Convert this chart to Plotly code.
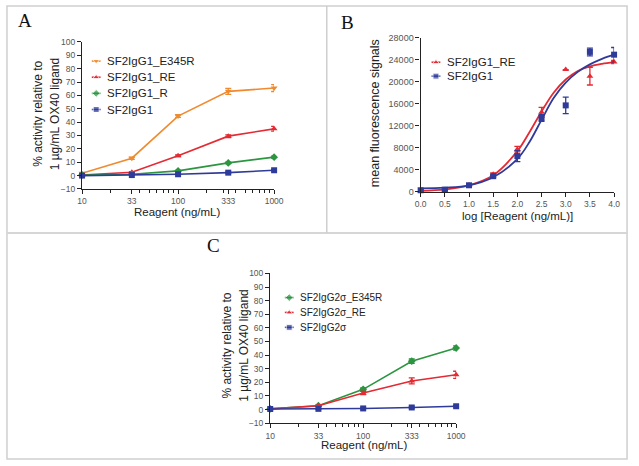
import plotly.graph_objects as go

W, H = 639, 466

# ---- panel A data: % activity vs reagent (ng/mL) ----
conc_a = [10, 33, 100, 333, 1000]
names_a = ["SF2IgG1_E345R", "SF2IgG1_RE", "SF2IgG1_R", "SF2IgG1"]
act_a_e345r = [1.7, 13.0, 44.5, 63.0, 65.5]
err_a_e345r = [0.5, 0.8, 1.0, 2.2, 2.6]
act_a_re = [0.5, 2.5, 14.8, 29.5, 35.0]
err_a_re = [0.3, 0.4, 0.6, 1.0, 1.8]
act_a_r = [0.5, 1.0, 3.5, 9.5, 13.8]
err_a_r = [0.2, 0.2, 0.4, 0.6, 0.8]
act_a_wt = [0.0, 0.4, 1.0, 2.2, 4.0]
err_a_wt = [0.2, 0.2, 0.3, 0.4, 0.5]

# ---- panel B data: mean fluorescence vs log concentration ----
log_b = [0.0, 0.5, 1.0, 1.5, 2.0, 2.5, 3.0, 3.5, 4.0]
names_b = ["SF2IgG1_RE", "SF2IgG1"]
mfi_b_re = [200, 350, 1250, 3200, 7760, 14450, 22200, 21000, 23560]
err_b_re = [100, 100, 150, 250, 500, 900, 0, 1600, 300]
mfi_b_wt = [300, 400, 1200, 2850, 6500, 13400, 15700, 25400, 24900]
err_b_wt = [100, 100, 150, 250, 1000, 600, 1500, 700, 1300]
# fitted curves
fit_log_b = [0.0, 0.5, 1.0, 1.5, 2.0, 2.25, 2.5, 2.75, 3.0, 3.25, 3.5, 3.75, 4.0]
fit_b_re = [180, 450, 1190, 3020, 7400, 10830, 14600, 18000, 20400, 21950, 22780, 23250, 23560]
fit_b_wt = [650, 770, 1190, 2660, 5980, 9050, 13080, 17040, 19830, 21780, 23140, 24150, 24910]

# ---- panel C data ----
conc_c = [10, 33, 100, 333, 1000]
names_c = ["SF2IgG2σ_E345R", "SF2IgG2σ_RE", "SF2IgG2σ"]
act_c_e345r = [0.5, 2.8, 14.8, 35.5, 45.2]
err_c_e345r = [0.3, 0.4, 1.0, 1.6, 1.5]
act_c_re = [0.5, 2.8, 12.2, 21.0, 25.5]
err_c_re = [0.3, 0.4, 1.2, 2.2, 2.6]
act_c_wt = [0.4, 0.5, 0.8, 1.5, 2.4]
err_c_wt = [0.2, 0.2, 0.3, 0.4, 0.5]

ORANGE = "#f08a2e"
RED = "#e42a33"
GREEN = "#2b9540"
BLUE = "#2f3b9a"


def px(x):
    return x / W


def py(y):
    return 1 - y / H


fig = go.Figure()


def add_series(x, y, err, color, symbol, xa, ya, size=6):
    fig.add_trace(go.Scatter(
        x=x, y=y, mode="lines+markers", xaxis=xa, yaxis=ya,
        line=dict(color=color, width=1.6),
        marker=dict(color=color, symbol=symbol, size=size),
        error_y=dict(type="data", array=err, color=color, thickness=1.3, width=3),
        cliponaxis=False, showlegend=False,
    ))


# panel A
add_series(conc_a, act_a_e345r, err_a_e345r, ORANGE, "triangle-down", "x", "y")
add_series(conc_a, act_a_re, err_a_re, RED, "triangle-up", "x", "y")
add_series(conc_a, act_a_r, err_a_r, GREEN, "diamond", "x", "y")
add_series(conc_a, act_a_wt, err_a_wt, BLUE, "square", "x", "y")

# panel B: fit curves then points
for fx, fy, col in [(fit_log_b, fit_b_re, RED), (fit_log_b, fit_b_wt, BLUE)]:
    fig.add_trace(go.Scatter(
        x=fx, y=fy, mode="lines", xaxis="x2", yaxis="y2",
        line=dict(color=col, width=1.8, shape="spline", smoothing=1.0),
        cliponaxis=False, showlegend=False,
    ))
for xv, yv, ev, col, sym in [(log_b, mfi_b_re, err_b_re, RED, "triangle-up"),
                             (log_b, mfi_b_wt, err_b_wt, BLUE, "square")]:
    fig.add_trace(go.Scatter(
        x=xv, y=yv, mode="markers", xaxis="x2", yaxis="y2",
        marker=dict(color=col, symbol=sym, size=6),
        error_y=dict(type="data", array=ev, color=col, thickness=1.3, width=3),
        cliponaxis=False, showlegend=False,
    ))

# panel C
add_series(conc_c, act_c_e345r, err_c_e345r, GREEN, "diamond", "x3", "y3")
add_series(conc_c, act_c_re, err_c_re, RED, "triangle-up", "x3", "y3")
add_series(conc_c, act_c_wt, err_c_wt, BLUE, "square", "x3", "y3")

# ---- hand-made legends on an overlay axis in pixel units ----
legends = [
    (names_a, [ORANGE, RED, GREEN, BLUE], ["triangle-down", "triangle-up", "diamond", "square"],
     92.5, 57.3, 16.5, 11.5),
    (names_b, [RED, BLUE], ["triangle-up", "square"], 441, 58.5, 14.2, 11.5),
    (names_c, [GREEN, RED, BLUE], ["diamond", "triangle-up", "square"], 290.5, 299, 15.2, 10),
]
annotations = []
for names, cols, syms, lx, ly, dy, fs in legends:
    for i, (nm, col, sym) in enumerate(zip(names, cols, syms)):
        yy = ly + i * dy
        fig.add_trace(go.Scatter(
            x=[lx - 4.5, lx, lx + 4.5], y=[yy, yy, yy], mode="lines+markers",
            xaxis="x4", yaxis="y4", line=dict(color=col, width=1.6),
            marker=dict(color=col, symbol=sym, size=[0, 6, 0]),
            cliponaxis=False, showlegend=False, hoverinfo="skip",
        ))
        annotations.append(dict(
            x=px(lx + 9.5), y=py(yy), xref="paper", yref="paper", text=nm,
            showarrow=False, xanchor="left", yanchor="middle",
            font=dict(size=fs, color="#222"),
        ))

# panel letters
for letter, lx, ly in [("A", 19.3, 16), ("B", 350, 17.5), ("C", 212.5, 245.5)]:
    annotations.append(dict(
        x=px(lx), y=py(ly), xref="paper", yref="paper", text=letter, showarrow=False,
        xanchor="center", yanchor="middle",
        font=dict(family="Liberation Serif, Times New Roman, serif", size=19, color="#111"),
    ))

# axis titles
titles = [
    ("Reagent (ng/mL)", 175.8, 212, 0, 11.5),
    ("% activity relative to", 32, 111, -90, 12),
    ("1 µg/mL OX40 ligand", 50, 111, -90, 12),
    ("log [Reagent (ng/mL)]", 524.7, 215.5, 0, 11.5),
    ("mean fluorescence signals", 378, 111, -90, 12.5),
    ("Reagent (ng/mL)", 367.5, 449.5, 0, 11.5),
    ("% activity relative to", 226.7, 348, -90, 12),
    ("1 µg/mL OX40 ligand", 243.3, 348, -90, 12),
]
for txt, tx, ty, ang, fs in titles:
    annotations.append(dict(
        x=px(tx), y=py(ty), xref="paper", yref="paper", text=txt, showarrow=False,
        textangle=ang, xanchor="center", yanchor="middle",
        font=dict(size=fs, color="#222"),
    ))

# panel frames
frame = dict(color="#cfcfcf", width=1.5)
shapes = [
    dict(type="rect", xref="paper", yref="paper", x0=px(1), x1=px(637), y0=py(1), y1=py(464),
         line=frame),
    dict(type="line", xref="paper", yref="paper", x0=px(1), x1=px(637), y0=py(233), y1=py(233),
         line=dict(color="#d6d6d6", width=2)),
    dict(type="line", xref="paper", yref="paper", x0=px(329), x1=px(329), y0=py(1), y1=py(233),
         line=frame),
]

axis_style = dict(
    showline=True, linecolor="#222", linewidth=1.4, ticks="outside", ticklen=4,
    tickwidth=1, tickcolor="#222", tickfont=dict(size=8.5, color="#555"),
    showgrid=False, zeroline=False,
)
log_ticks = [10, 33, 100, 333, 1000]
minor_ticks = [20, 40, 50, 60, 70, 80, 90, 200, 300, 400, 500, 600, 700, 800, 900]
log_x = dict(
    type="log", range=[1, 3], tickmode="array", tickvals=log_ticks,
    ticktext=[str(v) for v in log_ticks],
    minor=dict(tickmode="array", tickvals=minor_ticks, ticks="outside", ticklen=2.5,
               tickcolor="#222"),
    **axis_style,
)
pct_y = dict(range=[-10, 100], tick0=0, dtick=10, **axis_style)

fig.update_layout(
    width=W, height=H, margin=dict(l=0, r=0, t=0, b=0),
    paper_bgcolor="white", plot_bgcolor="rgba(0,0,0,0)",
    font=dict(family="Arial, Liberation Sans, sans-serif", color="#222"),
    showlegend=False,
    xaxis=dict(domain=[px(78), px(275)], anchor="y", **log_x),
    yaxis=dict(domain=[py(188), py(37.7)], anchor="x", **pct_y),
    xaxis2=dict(domain=[px(425.3), px(623.7)], anchor="y2", range=[0, 4], dtick=0.5,
                tick0=0, tickformat=".1f", **axis_style),
    yaxis2=dict(domain=[py(191), py(33.3)], anchor="x2", range=[0, 28000], dtick=4000,
                tickformat="d", **{**axis_style, "tickfont": dict(size=9, color="#555")}),
    xaxis3=dict(domain=[px(271), px(461.7)], anchor="y3", **log_x),
    yaxis3=dict(domain=[py(427.3), py(274.3)], anchor="x3", **pct_y),
    xaxis4=dict(domain=[0, 1], range=[0, W], visible=False, fixedrange=True),
    yaxis4=dict(domain=[0, 1], range=[H, 0], visible=False, fixedrange=True, anchor="x4"),
    annotations=annotations,
    shapes=shapes,
)

# drop the browser's default body margin so the figure sits at the page origin
fig.write_html(
    "out.html",
    config={"displayModeBar": False},
    post_script="document.body.style.margin='0';document.body.style.overflow='hidden';",
)
